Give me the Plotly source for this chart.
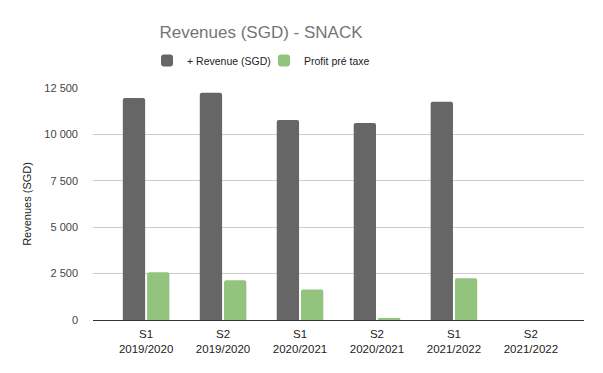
import plotly.graph_objects as go

categories = ["S1<br>2019/2020", "S2<br>2019/2020", "S1<br>2020/2021",
              "S2<br>2020/2021", "S1<br>2021/2022", "S2<br>2021/2022"]
revenue = [11960, 12250, 10780, 10610, 11760, None]
profit = [2570, 2140, 1640, 90, 2250, None]
y_tickvals = [0, 2500, 5000, 7500, 10000, 12500]
y_ticktext = ["0", "2 500", "5 000", "7 500", "10 000", "12 500"]

FONT = "Liberation Sans, Arial, sans-serif"

# page has an 8px body margin; figure is sized/offset to compensate
W, H = 587, 357

fig = go.Figure()
fig.add_trace(go.Bar(x=categories, y=revenue, name="+ Revenue (SGD)",
                     marker=dict(color="#666666", line=dict(width=0))))
fig.add_trace(go.Bar(x=categories, y=profit, name="Profit pré taxe",
                     marker=dict(color="#93c47d", line=dict(width=0))))

fig.update_layout(
    width=W, height=H,
    margin=dict(l=85, r=11, t=80, b=45),
    paper_bgcolor="white", plot_bgcolor="white",
    font=dict(family=FONT, size=11, color="#222222"),
    title=dict(text="Revenues (SGD) - SNACK", x=253/W, xanchor="center",
               xref="container", y=1-24/H, yanchor="middle", yref="container",
               font=dict(size=17, color="#757575", family=FONT)),
    barmode="group", bargap=0.37, bargroupgap=0.08, barcornerradius=2,
    legend=dict(orientation="h", x=0.110, xanchor="left", y=1.118,
                yanchor="middle", font=dict(size=10.5, color="#222222"),
                itemwidth=30, traceorder="normal", entrywidth=72),
    showlegend=True,
)
fig.update_xaxes(range=[-0.69, 5.69], showgrid=False, showline=True,
                 linecolor="#333333", linewidth=1, ticks="",
                 ticklabelstandoff=3,
                 tickfont=dict(size=11.5, color="#222222"))
fig.update_yaxes(range=[0, 12500], tickvals=y_tickvals, ticktext=y_ticktext,
                 showgrid=True, gridcolor="#cccccc", gridwidth=1,
                 zeroline=False, showline=False, ticks="",
                 ticklabelstandoff=14,
                 tickfont=dict(size=11, color="#444444"),
                 title=dict(text="Revenues (SGD)", font=dict(size=11, color="#222222"),
                            standoff=10))

fig.write_html("out.html")
